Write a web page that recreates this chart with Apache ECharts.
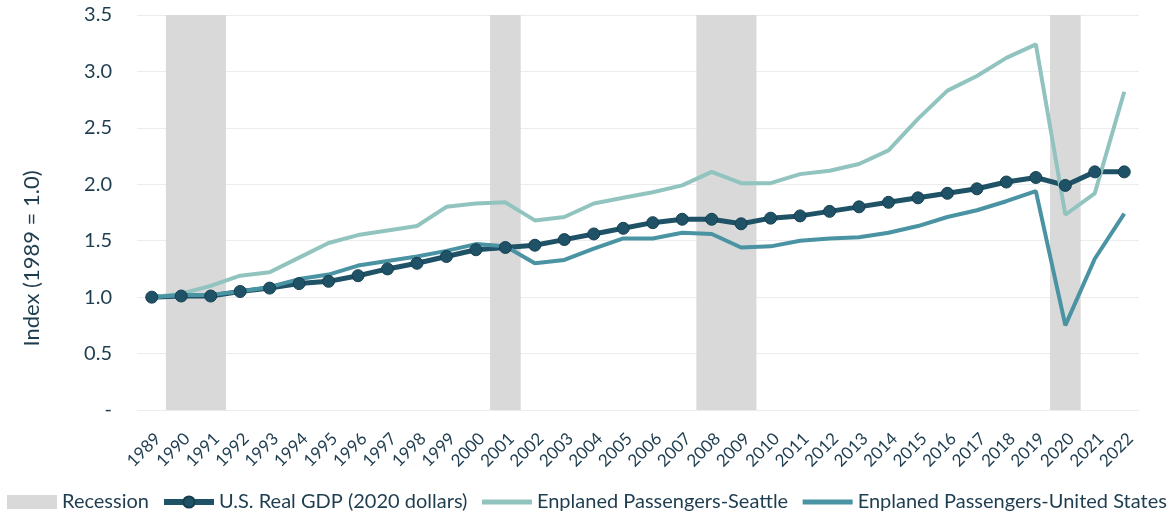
<!DOCTYPE html>
<html>
<head>
<meta charset="utf-8">
<script src="https://cdn.jsdelivr.net/npm/echarts@6/dist/echarts.min.js"></script>
<style>
html, body { margin: 0; padding: 0; background: #fff; }
#main { width: 1175px; height: 514px; }
</style>
</head>
<body>
<div id="main"></div>
<script>
var years = [];
for (var y = 1989; y <= 2022; y++) years.push(String(y));

var recessionYears = ['1990', '1991', '2001', '2008', '2009', '2020'];

var gdp = [1.00, 1.01, 1.01, 1.05, 1.08, 1.12, 1.14, 1.19, 1.25, 1.30,
	1.36, 1.42, 1.44, 1.46, 1.51, 1.56, 1.61, 1.66, 1.69, 1.69,
	1.65, 1.70, 1.72, 1.76, 1.80, 1.84, 1.88, 1.92, 1.96, 2.02,
	2.06, 1.99, 2.11, 2.11];

var seattle = [1.00, 1.03, 1.10, 1.19, 1.22, 1.35, 1.48, 1.55, 1.59, 1.63,
	1.80, 1.83, 1.84, 1.68, 1.71, 1.83, 1.88, 1.93, 1.99, 2.11,
	2.01, 2.01, 2.09, 2.12, 2.18, 2.30, 2.58, 2.83, 2.96, 3.12,
	3.24, 1.73, 1.92, 2.82];

var usa = [1.00, 1.02, 1.02, 1.05, 1.09, 1.16, 1.20, 1.28, 1.32, 1.36,
	1.41, 1.47, 1.45, 1.30, 1.33, 1.43, 1.52, 1.52, 1.57, 1.56,
	1.44, 1.45, 1.50, 1.52, 1.53, 1.57, 1.63, 1.71, 1.77, 1.85,
	1.94, 0.75, 1.34, 1.74];

var textColor = '#1e3d4f';
var fontName = 'Lato';

var chart = echarts.init(document.getElementById('main'));

chart.setOption({
	animation: false,
	textStyle: { fontFamily: fontName, color: textColor },
	grid: { left: 137, right: 36, top: 15, bottom: 104 },
	legend: {
		top: 492,
		left: 7,
		padding: 0,
		itemWidth: 50,
		itemHeight: 14,
		itemGap: 12,
		textStyle: { fontFamily: fontName, fontSize: 20, color: textColor },
		data: [
			{ name: 'Recession', icon: 'rect' },
			{ name: 'U.S. Real GDP (2020 dollars)', lineStyle: { width: 6 } },
			{ name: 'Enplaned Passengers-Seattle', lineStyle: { width: 5 }, itemStyle: { opacity: 0 } },
			{ name: 'Enplaned Passengers-United States', lineStyle: { width: 5 }, itemStyle: { opacity: 0 } }
		]
	},
	xAxis: {
		type: 'category',
		data: years,
		axisLine: { show: false },
		axisTick: { show: false },
		axisLabel: {
			rotate: 45,
			interval: 0,
			margin: 20,
			verticalAlign: 'top',
			fontSize: 17,
			color: textColor
		}
	},
	yAxis: {
		type: 'value',
		min: 0,
		max: 3.5,
		interval: 0.5,
		name: 'Index (1989 = 1.0)',
		nameLocation: 'middle',
		nameGap: 94,
		nameTextStyle: { fontSize: 22, color: textColor, padding: [0, 92, 0, 0] },
		axisLabel: {
			margin: 25,
			fontSize: 20,
			color: textColor,
			formatter: function(v) { return v === 0 ? '-' : v.toFixed(1); }
		},
		splitLine: { lineStyle: { color: '#ececec', width: 1 } }
	},
	series: [{
		name: 'Recession',
		type: 'bar',
		barWidth: '104%',
		itemStyle: { color: '#d9d9d9' },
		z: 1,
		data: years.map(function(yr) { return recessionYears.indexOf(yr) >= 0 ? 3.5 : null; })
	}, {
		name: 'U.S. Real GDP (2020 dollars)',
		type: 'line',
		z: 3,
		data: gdp,
		symbol: 'circle',
		symbolSize: 12,
		lineStyle: { color: '#1f5266', width: 5 },
		itemStyle: { color: '#1f5266', borderColor: '#163f50', borderWidth: 1 }
	}, {
		name: 'Enplaned Passengers-Seattle',
		type: 'line',
		z: 3,
		data: seattle,
		symbol: 'none',
		lineStyle: { color: '#91c4bf', width: 4 },
		itemStyle: { color: '#91c4bf' }
	}, {
		name: 'Enplaned Passengers-United States',
		type: 'line',
		z: 3,
		data: usa,
		symbol: 'none',
		lineStyle: { color: '#4a93a3', width: 4 },
		itemStyle: { color: '#4a93a3' }
	}]
});
</script>
</body>
</html>
